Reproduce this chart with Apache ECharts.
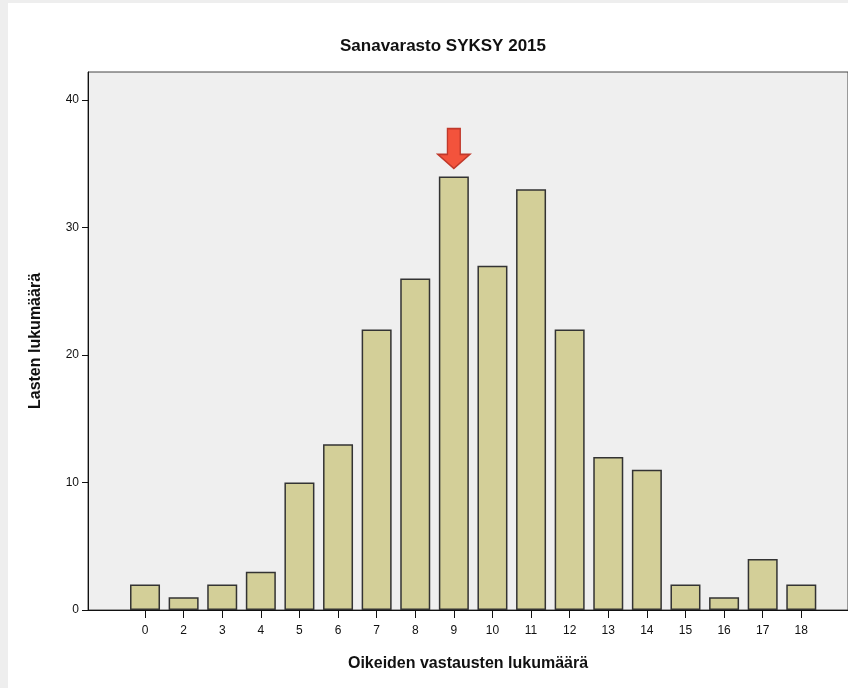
<!DOCTYPE html>
<html>
<head>
<meta charset="utf-8">
<script src="https://cdn.jsdelivr.net/npm/echarts@6/dist/echarts.min.js"></script>
<style>
  html, body { margin: 0; padding: 0; background: #eeeeee; }
  #chart { position: absolute; left: 8px; top: 3px; width: 840px; height: 685px; background: #ffffff; }
</style>
</head>
<body>
<div id="chart"></div>
<script>
(function(){

var categories = ['0', '2', '3', '4', '5', '6', '7', '8', '9', '10', '11', '12', '13', '14', '15', '16', '17', '18'];
var counts = [2, 1, 2, 3, 10, 13, 22, 26, 34, 27, 33, 22, 12, 11, 2, 1, 4, 2];
var yTicks = [0, 10, 20, 30, 40];
var arrowAt = '9';

var font = 'Liberation Sans, Arial, sans-serif';

var points = counts.map(function(v, i){ return [i, v]; });
var idx = categories.map(function(c, i){ return i; });
var arrowIdx = categories.indexOf(arrowAt);

var chart = echarts.init(document.getElementById('chart'));

var option = {
	animation: false,
	title: {
		text: 'Sanavarasto SYKSY 2015',
		left: 430, top: 30, textAlign: 'center',
		textStyle: { fontFamily: font, fontSize: 17, fontWeight: 'bold', color: '#111' }
	},
	grid: {
		left: 80, top: 69, right: 0, bottom: 78,
		show: true, backgroundColor: '#efefef', borderColor: '#444', borderWidth: 1
	},
	xAxis: {
		type: 'value',
		min: -1.477, max: 18.21,
		name: 'Oikeiden vastausten lukumäärä',
		nameLocation: 'middle', nameGap: 46,
		nameTextStyle: { fontFamily: font, fontSize: 16, fontWeight: 'bold', color: '#111' },
		splitLine: { show: false },
		axisLine: { onZero: false, lineStyle: { color: '#111', width: 1 } },
		axisTick: { show: true, inside: false, customValues: idx, length: 8, lineStyle: { color: '#111', width: 1 } },
		axisLabel: {
			customValues: idx, margin: 15,
			fontFamily: font, fontSize: 12, color: '#111',
			formatter: function(v){ return categories[Math.round(v)]; }
		}
	},
	yAxis: {
		type: 'value',
		min: 0, max: 42.2,
		name: 'Lasten lukumäärä',
		nameLocation: 'middle', nameGap: 44,
		nameTextStyle: { fontFamily: font, fontSize: 16, fontWeight: 'bold', color: '#111' },
		splitLine: { show: false },
		axisLine: { show: true, onZero: false, lineStyle: { color: '#111', width: 1 } },
		axisTick: { show: true, inside: false, customValues: yTicks, length: 6, lineStyle: { color: '#111', width: 1 } },
		axisLabel: { customValues: yTicks, margin: 9, fontFamily: font, fontSize: 12, color: '#111' }
	},
	series: [{
		type: 'bar',
		data: points,
		barWidth: 30,
		itemStyle: { color: '#d3cf98', borderColor: '#333', borderWidth: 1.5 },
		markPoint: {
			silent: true,
			symbol: 'path://M6,0 L14,0 L14,22 L20,22 L10,34 L0,22 L6,22 Z',
			symbolSize: [32, 40],
			symbolOffset: [0, -28],
			itemStyle: { color: '#f3533c', borderColor: '#c0392b', borderWidth: 1.5 },
			label: { show: false },
			data: [{ coord: [arrowIdx, counts[arrowIdx]] }]
		}
	}]
};

chart.setOption(option);

})()
</script>
</body>
</html>
